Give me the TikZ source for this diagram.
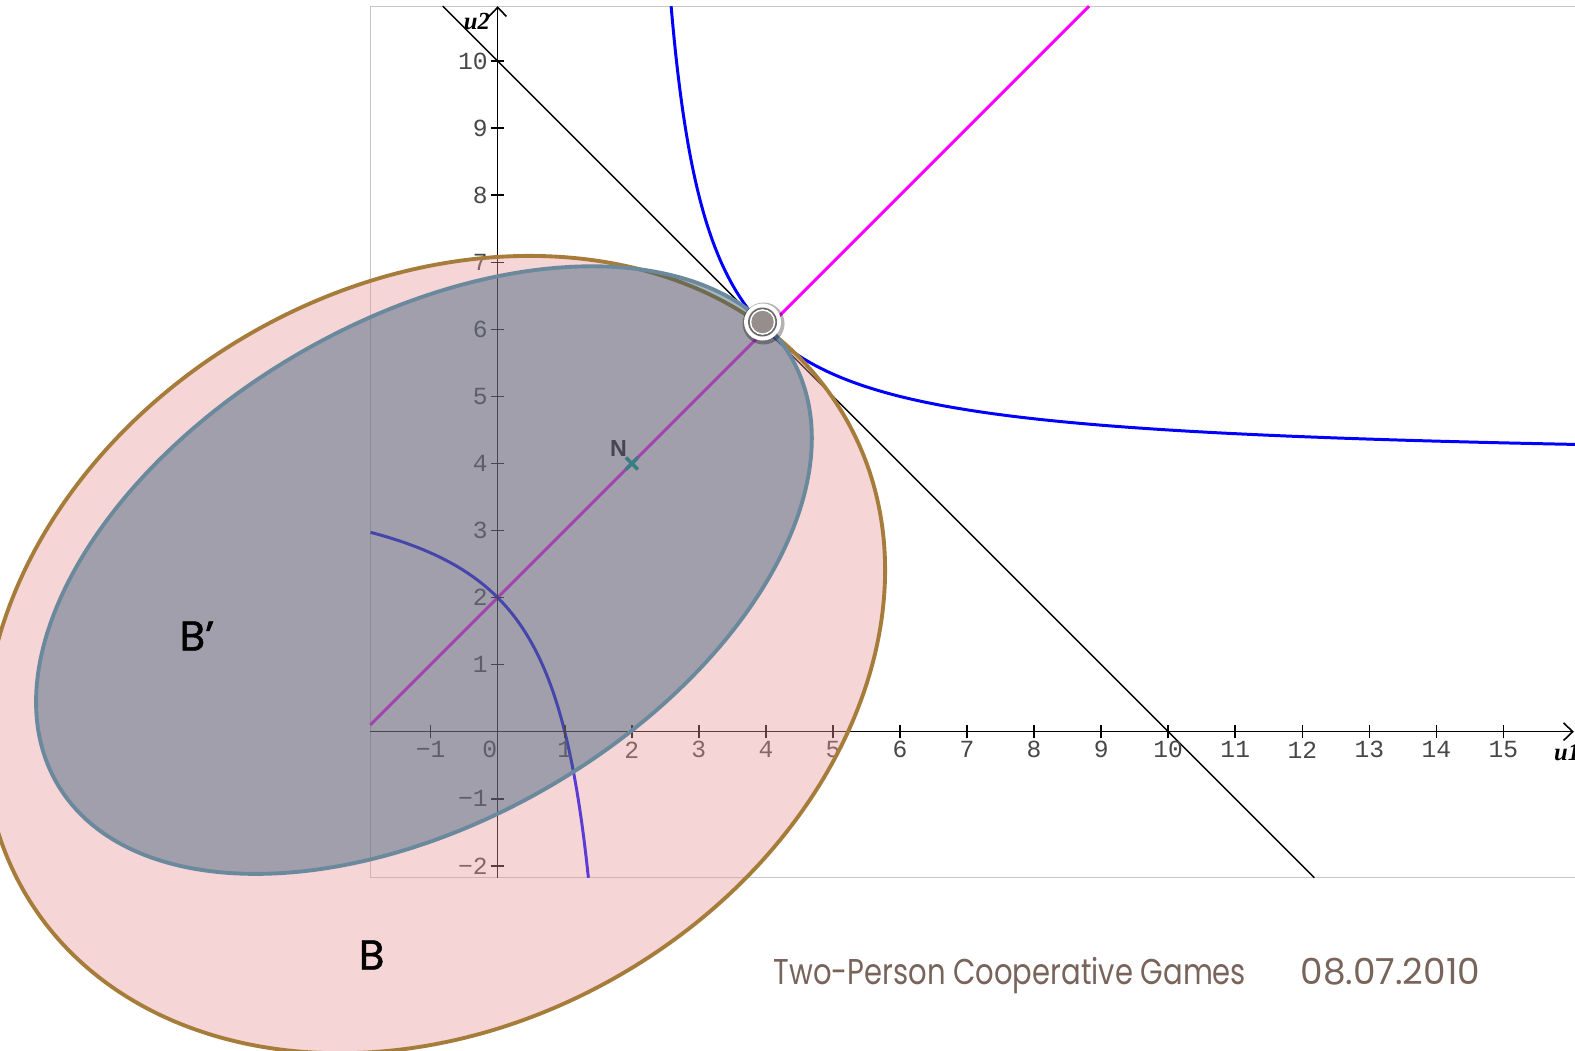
\documentclass[tikz,border=0pt]{standalone}
\usepackage{fontspec}
\newfontfamily\slidefont{Poppins}
\newfontfamily\setfont[FakeBold=1.2]{Poppins}
\newfontfamily\tickfont{Liberation Mono}
\newfontfamily\axisfont{Liberation Serif}
\newfontfamily\markfont{Liberation Sans}
\usetikzlibrary{arrows.meta,calc}
\definecolor{bfill}{RGB}{230,152,152}
\definecolor{bedge}{RGB}{166,124,58}
\definecolor{bpfill}{RGB}{39,83,113}
\definecolor{bpedge}{RGB}{107,137,157}
\definecolor{raymag}{RGB}{255,0,255}
\definecolor{nmark}{RGB}{60,125,130}
\definecolor{slidetext}{RGB}{120,100,90}
\definecolor{knob}{RGB}{150,141,141}

\begin{document}
\begin{tikzpicture}[
    bset/.style={draw=bedge, line width=1.1pt, fill=bfill, fill opacity=0.4},
    bprime/.style={draw=bpedge, line width=1.1pt, fill=bpfill, fill opacity=0.41},
    axis/.style={line width=0.45pt, -{Straight Barb[length=2.6pt,width=5pt]}},
    tickmark/.style={line width=0.45pt},
    ticklbl/.style={font=\tickfont\fontsize{7}{8}\selectfont, text=black!72, inner sep=0pt},
    axislbl/.style={font=\axisfont\bfseries\itshape\fontsize{7}{8}\selectfont, inner sep=0pt},
    hyper/.style={blue, line width=0.85pt},
    frontier/.style={black, line width=0.4pt},
    rayline/.style={raymag, line width=0.85pt},
    slide/.style={font=\slidefont\fontsize{10.2}{12}\selectfont, text=slidetext, inner sep=0pt, anchor=base west},
    setlbl/.style={font=\setfont\fontsize{11.8}{14}\selectfont, inner sep=0pt}
]
\useasboundingbox (0,0) rectangle (15.75,10.51);
\fill[white] (0,0) rectangle (15.75,10.51);
\clip (0,0) rectangle (15.75,10.51);

\begin{scope}[shift={(4.977cm,3.193cm)}, x=0.6705cm, y=0.6705cm]

% ============================================================
% PLOT FRAME, LINES AND LEVEL CURVES
% ============================================================
\draw[gray!45, line width=0.3pt] (-1.9,-2.18) rectangle (16.5,10.82);

\draw[rayline] (-1.9,0.1) -- (8.82,10.82);
\draw[frontier] (-0.82,10.82) -- (12.18,-2.18);

\draw[hyper] plot[domain=-1.2267:1.98, samples=120, smooth, variable=\t]
    ({2+2*exp(\t)},{4+2*exp(-\t)});
\draw[hyper] plot[domain=-1.128:0.668, samples=80, smooth, variable=\t]
    ({2-2*exp(\t)},{4-2*exp(-\t)});

% ============================================================
% AXES
% ============================================================
\draw[axis] (-1.9,0) -- (16.05,0);
\draw[axis] (0,-2.18) -- (0,10.82);

\foreach \i in {-1,1,2,...,15}
    \draw[tickmark] (\i,-0.1) -- (\i,0.1);
\foreach \j in {-2,-1,1,2,...,10}
    \draw[tickmark] (-0.1,\j) -- (0.1,\j);

\foreach \i in {1,...,15}
    \node[ticklbl] (xl\i) at (\i,-0.27) {\i};
\node[ticklbl] (xlm1) at (-1,-0.27) {−1};
\node[ticklbl] (xl0) at (-0.12,-0.27) {0};

\foreach \j in {1,...,10}
    \node[ticklbl, anchor=east] (yl\j) at (-0.14,\j) {\j};
\node[ticklbl, anchor=east] (ylm1) at (-0.14,-1) {−1};
\node[ticklbl, anchor=east] (ylm2) at (-0.14,-2) {−2};

\node[axislbl] (uone) at (15.95,-0.31) {u1};
\node[axislbl] (utwo) at (-0.31,10.59) {u2};

\node[font=\markfont\bfseries\fontsize{6.6}{8}\selectfont, inner sep=0pt] (nlbl) at (1.80,4.23) {N};

% ============================================================
% SETS B AND B'
% ============================================================
\draw[bset, rotate around={30:(-0.94,1.15)}] (-0.94,1.15) ellipse (7.07 and 5.52);
\draw[bprime, rotate around={30.2:(-1.10,2.41)}] (-1.10,2.41) ellipse (6.33 and 3.73);

% point N and the solution point
\coordinate (N) at (2,4);
\draw[nmark, line width=1pt] ([shift={(-0.06cm,-0.06cm)}]N) -- ([shift={(0.06cm,0.06cm)}]N);
\draw[nmark, line width=1pt] ([shift={(-0.06cm,0.06cm)}]N) -- ([shift={(0.06cm,-0.06cm)}]N);

\coordinate (sol) at (3.95,6.11);
\fill[black, opacity=0.3] ([shift={(0.01cm,-0.015cm)}]sol) circle[radius=0.21cm];
\fill[white] (sol) circle[radius=0.185cm];
\fill[black!58] (sol) circle[radius=0.145cm];
\fill[white] (sol) circle[radius=0.128cm];
\fill[knob] (sol) circle[radius=0.112cm];
\end{scope}

% ============================================================
% TEXTS
% ============================================================
\node[setlbl] (lblBp) at (1.97,4.15) {B’};
\node[setlbl] (lblB) at (3.717,0.96) {B};
\node[slide, xscale=0.81] (title) at (7.73,0.667) {Two-Person Cooperative Games};
\node[slide] (date) at (13.00,0.667) {08.07.2010};

\end{tikzpicture}
\end{document}
